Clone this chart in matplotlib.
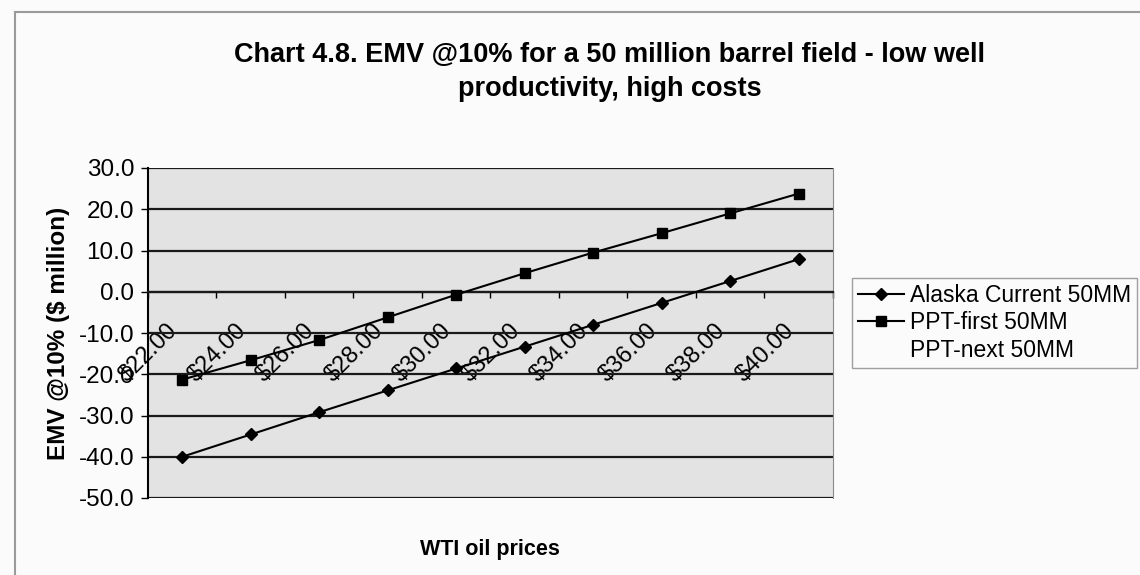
import matplotlib.pyplot as plt
import matplotlib.ticker as ticker
from matplotlib.patches import Rectangle
import numpy as np

plt.rcParams['font.family'] = ['Liberation Sans', 'DejaVu Sans']

# Данные графика
prices = ['$22.00', '$24.00', '$26.00', '$28.00', '$30.00',
          '$32.00', '$34.00', '$36.00', '$38.00', '$40.00']
alaska = [-40.0, -34.6, -29.2, -23.9, -18.6, -13.3, -8.0, -2.7, 2.6, 7.9]
ppt_first = [-21.3, -16.6, -11.7, -6.2, -0.7, 4.5, 9.5, 14.2, 19.0, 23.8]
ppt_next = []   # серия в легенде есть, на графике не видна

fig = plt.figure(figsize=(11.4, 5.75), dpi=100, facecolor='#fbfbfb')
ax = fig.add_axes([148/1140, 1-498/575, (833-148)/1140, (498-168)/575])
ax.set_facecolor('#e3e3e3')

# рамка области диаграммы
fig.patches.append(Rectangle((15/1140, -0.02), 1.0, 1-12/575+0.02, transform=fig.transFigure,
                             fill=False, edgecolor='#9a9a9a', lw=1.5))

x = np.arange(len(prices))
ax.plot(x, alaska, color='black', lw=1.5, marker='D', ms=6, label='Alaska Current 50MM', zorder=3)
ax.plot(x, ppt_first, color='black', lw=1.5, marker='s', ms=7, label='PPT-first 50MM', zorder=3)
ax.plot(x[:len(ppt_next)], ppt_next, color='none', label='PPT-next 50MM')

ax.set_xlim(-0.5, len(prices) - 0.5)
ax.set_ylim(-50, 30)
ax.yaxis.set_major_locator(ticker.MultipleLocator(10))
ax.yaxis.set_major_formatter(ticker.FormatStrFormatter('%.1f'))
ax.yaxis.grid(True, color='#1a1a1a', lw=1.6)
ax.set_axisbelow(True)

# ось категорий проходит через 0
ax.spines['bottom'].set_position(('data', 0))
ax.spines['bottom'].set_color('#1a1a1a')
ax.spines['bottom'].set_linewidth(1.6)
ax.spines['top'].set_visible(False)
ax.spines['right'].set_color('#8a8a8a')
ax.spines['right'].set_linewidth(0.8)
ax.spines['left'].set_color('black')
ax.spines['left'].set_linewidth(1.5)

ax.set_xticks(x)
ax.set_xticklabels(prices, rotation=45, ha='right', va='top')
ax.xaxis.set_minor_locator(ticker.FixedLocator(np.arange(-0.5, len(prices), 1)))
ax.tick_params(axis='x', which='major', length=0, pad=20, labelsize=17)
ax.tick_params(axis='x', which='minor', length=4, width=1, direction='out')
ax.tick_params(axis='y', which='major', length=5, width=1, labelsize=17.5, pad=5)

ax.set_ylabel('EMV @10% ($ million)', fontsize=17.5, fontweight='bold', labelpad=6)
fig.text(490/1140, 1-549/575, 'WTI oil prices', fontsize=15.5, fontweight='bold',
         ha='center', va='center')
fig.text(610/1140, 1-72/575,
         'Chart 4.8. EMV @10% for a 50 million barrel field - low well\nproductivity, high costs',
         fontsize=19.5, fontweight='bold', ha='center', va='center', linespacing=1.4)

leg = fig.legend(loc='upper left', bbox_to_anchor=(852/1140, 1-278/575), fontsize=16.5,
                 frameon=True, fancybox=False, edgecolor='#888888', facecolor='#fbfbfb',
                 handlelength=2.0, handletextpad=0.3, borderpad=0.25, labelspacing=0.2,
                 borderaxespad=0)
leg.get_frame().set_linewidth(1.0)

fig.savefig('out.png', dpi=100, facecolor=fig.get_facecolor())
